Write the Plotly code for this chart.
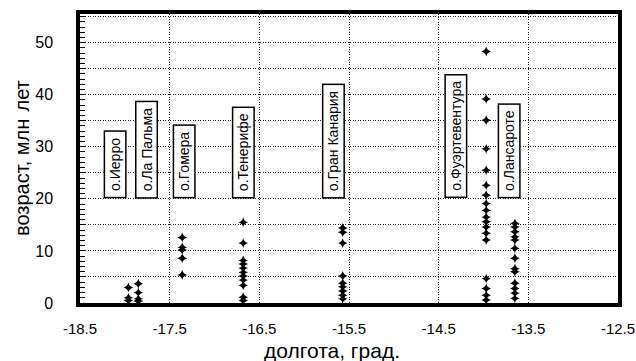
import plotly.graph_objects as go

# Canary Islands: longitude (deg) and radiometric ages (Ma) of samples
islands = ["о.Иерро", "о.Ла Пальма", "о.Гомера", "о.Тенерифе",
           "о.Гран Канария", "о.Фуэртевентура", "о.Лансароте"]

lon_ierro = -17.96
age_ierro = [3.0, 1.0, 0.5]

lon_lapalma = -17.85
age_lapalma = [3.7, 2.0, 0.8, 0.4]

lon_gomera = -17.36
age_gomera = [12.6, 10.7, 10.2, 8.6, 5.4]

lon_tenerife = -16.68
age_tenerife = [15.5, 11.5, 8.2, 7.5, 6.7, 5.9, 5.2, 4.4, 3.4, 1.1, 0.5]

lon_grancanaria = -15.57
age_grancanaria = [14.4, 13.6, 11.5, 5.2, 3.8, 3.1, 2.3, 1.5, 0.8]

lon_fuerteventura = -13.97
age_fuerteventura = [48.3, 39.2, 35.1, 29.6, 25.5, 22.6, 20.7, 19.1, 17.8,
                     16.5, 15.6, 14.6, 13.4, 12.1, 4.7, 2.8, 1.5, 0.6]

lon_lanzarote = -13.65
age_lanzarote = [15.3, 14.6, 13.7, 12.7, 12.1, 10.5, 8.6, 6.6, 6.0,
                 3.8, 2.8, 1.9, 0.9]

# label box positions (longitude of box centre, age of box bottom)
label_lon = [-18.11, -17.76, -17.34, -16.68, -15.67, -14.31, -13.71]
label_age = [20.1, 20.1, 20.1, 20.1, 20.1, 20.1, 20.1]

x_ticks = [-18.5, -17.5, -16.5, -15.5, -14.5, -13.5, -12.5]
y_ticks = [0, 5, 10, 15, 20, 25, 30, 35, 40, 45, 50, 55]
y_ticktext = ["0", "", "10", "", "20", "", "30", "", "40", "", "50", ""]

x_title = "долгота, град."
y_title = "возраст, млн\u00a0\u200aлет"

FONT = "Liberation Sans, Arial, sans-serif"
W, H = 636, 361
ML, MR, MT, MB = 80, 18, 14, 58

groups = [
    (lon_ierro, age_ierro),
    (lon_lapalma, age_lapalma),
    (lon_gomera, age_gomera),
    (lon_tenerife, age_tenerife),
    (lon_grancanaria, age_grancanaria),
    (lon_fuerteventura, age_fuerteventura),
    (lon_lanzarote, age_lanzarote),
]

fig = go.Figure()
for name, (lon, ages) in zip(islands, groups):
    fig.add_trace(go.Scatter(
        x=[lon] * len(ages), y=ages, mode="markers", name=name,
        marker=dict(symbol="star-diamond", size=7, color="black",
                    line=dict(width=0)),
        cliponaxis=False,
    ))

# rotated island name boxes
for name, lx, ly in zip(islands, label_lon, label_age):
    fig.add_annotation(
        x=lx, y=ly, xref="x", yref="y",
        text="\u00a0" + name + "\u00a0", textangle=-90,
        showarrow=False, xanchor="center", yanchor="bottom",
        font=dict(family=FONT, size=14, color="black"),
        bgcolor="white", bordercolor="black", borderwidth=1.5, borderpad=2,
    )

# axis titles, positioned in pixels relative to the plot area
plot_w = W - ML - MR
plot_h = H - MT - MB
fig.add_annotation(
    x=(332 - ML) / plot_w, y=(H - MB - 350) / plot_h,
    xref="paper", yref="paper", text=x_title, showarrow=False,
    font=dict(family=FONT, size=21, color="black"),
    xanchor="center", yanchor="middle",
)
fig.add_annotation(
    x=(22 - ML) / plot_w, y=(H - MB - 158) / plot_h,
    xref="paper", yref="paper", text=y_title, textangle=-90,
    showarrow=False, font=dict(family=FONT, size=20, color="black"),
    xanchor="center", yanchor="middle",
)

fig.update_layout(
    width=W, height=H,
    margin=dict(l=ML, r=MR, t=MT, b=MB, autoexpand=False),
    paper_bgcolor="white", plot_bgcolor="white",
    showlegend=False,
    font=dict(family=FONT, size=16, color="black"),
)

fig.update_xaxes(
    range=[-18.5, -12.5], tickvals=x_ticks,
    ticktext=[f"{v:g}" for v in x_ticks],
    tickfont=dict(size=15),
    showgrid=True, gridcolor="#222", griddash="1px,1.5px", gridwidth=1,
    showline=True, linecolor="black", linewidth=3.5, mirror=True,
    ticks="", ticklabelstandoff=9, zeroline=False, automargin=False,
    ticklabeloverflow="allow",
)
fig.update_yaxes(
    range=[0, 55.5], tickvals=y_ticks, ticktext=y_ticktext,
    showgrid=True, gridcolor="#222", griddash="1px,1.5px", gridwidth=1,
    showline=True, linecolor="black", linewidth=3.5, mirror=True,
    ticks="", ticklabelstandoff=20, zeroline=False, automargin=False,
    ticklabeloverflow="allow",
    minor=dict(dtick=1, ticks="inside", ticklen=5, tickcolor="black",
               tickwidth=1, showgrid=False),
)

fig.write_html("out.html")
